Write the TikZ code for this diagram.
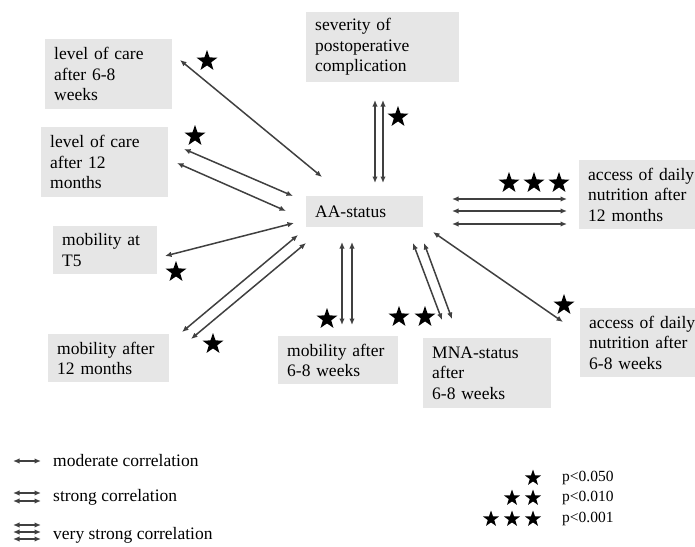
\documentclass[tikz,border=0pt]{standalone}
\usepackage{fontspec}
\setmainfont{Liberation Serif}
\usetikzlibrary{arrows.meta,shapes.geometric,calc}
\definecolor{boxgray}{RGB}{230,230,230}
\definecolor{arrgray}{RGB}{64,64,64}
\begin{document}
\begin{tikzpicture}[x=1pt,y=-1pt,
  box/.style={fill=boxgray, inner xsep=9pt, inner ysep=0pt, align=left, anchor=north west,
              font=\fontsize{17.5}{20.5}\selectfont},
  dar/.style={draw=arrgray, line width=1.5pt, {Latex[length=6.5pt,width=5.5pt]}-{Latex[length=6.5pt,width=5.5pt]}},
  st/.style={star, star points=5, star point ratio=2.5, fill=black, draw=none, inner sep=0pt, minimum size=22pt},
  lst/.style={st, minimum size=17pt},
  legtext/.style={anchor=west, inner sep=0pt, font=\fontsize{17.5}{20}\selectfont},
  ptext/.style={anchor=west, inner sep=0pt, font=\fontsize{15.5}{18}\selectfont}]
\useasboundingbox (0,0) rectangle (695,546);

% boxes
\node[box, text width=109pt, minimum height=70pt] (lc6) at (45,39) {level of care\\after 6-8\\weeks};
\node[box, text width=109pt, minimum height=70pt] (lc12) at (41,127) {level of care\\after 12\\months};
\node[box, text width=86pt, minimum height=48pt] (t5) at (53,226) {mobility at\\T5};
\node[box, text width=103pt, minimum height=48pt] (mob12) at (48,334) {mobility after\\12 months};
\node[box, text width=135pt, minimum height=70pt] (sev) at (306,12) {severity of\\postoperative\\complication};
\node[box, text width=99pt, minimum height=31pt] (aa) at (306,196) {AA-status};
\node[box, text width=107pt, minimum height=69pt] (acc12) at (579,160) {access of daily\\nutrition after\\12 months};
\node[box, text width=107pt, minimum height=69pt] (acc6) at (580,308) {access of daily\\nutrition after\\6-8 weeks};
\node[box, text width=102pt, minimum height=48pt] (mob6) at (278,336) {mobility after\\6-8 weeks};
\node[box, text width=110pt, minimum height=70pt] (mna) at (423,338) {MNA-status\\after\\6-8 weeks};

% connectors
\draw[dar] ($(sev.north west)+(69,88)$) -- ($(aa.north west)+(69,-13)$);
\draw[dar] ($(sev.north west)+(77,88)$) -- ($(aa.north west)+(77,-13)$);

\draw[dar] ($(aa.north west)+(146,3)$) -- ($(acc12.north west)+(-12,39)$);
\draw[dar] ($(aa.north west)+(146,15)$) -- ($(acc12.north west)+(-12,51)$);
\draw[dar] ($(aa.north west)+(146,28)$) -- ($(acc12.north west)+(-12,64)$);

\draw[dar] ($(lc6.north west)+(135,21)$) -- ($(aa.north west)+(16,-19)$);

\draw[dar] ($(lc12.north west)+(143,22)$) -- ($(aa.north west)+(-13,0)$);
\draw[dar] ($(lc12.north west)+(136,36)$) -- ($(aa.north west)+(-20,15)$);

\draw[dar] ($(t5.north west)+(112,30)$) -- ($(aa.north west)+(-12,27)$);

\draw[dar] ($(mob12.north west)+(134,-2)$) -- ($(aa.north west)+(-8,39)$);
\draw[dar] ($(mob12.north west)+(143,5)$) -- ($(aa.north west)+(0,47)$);

\draw[dar] ($(aa.north west)+(36,46)$) -- ($(mob6.north west)+(64,-11)$);
\draw[dar] ($(aa.north west)+(46,46)$) -- ($(mob6.north west)+(74,-11)$);

\draw[dar] ($(aa.north west)+(107,47)$) -- ($(mna.north west)+(19,-18)$);
\draw[dar] ($(aa.north west)+(118,47)$) -- ($(mna.north west)+(29,-19)$);

\draw[dar] ($(aa.north west)+(127,36)$) -- ($(acc6.north west)+(-17,14)$);

% significance stars
\node[st] (s-sev) at (398,117) {};
\node[st] (s-acc12a) at (509,183) {};
\node[st] (s-acc12b) at (534,183) {};
\node[st] (s-acc12c) at (559,183) {};
\node[st] (s-lc6) at (207,61) {};
\node[st] (s-lc12) at (195,136) {};
\node[st] (s-t5) at (176,272) {};
\node[st] (s-mob12) at (213,344) {};
\node[st] (s-mob6) at (327,319) {};
\node[st] (s-mnaa) at (399,317) {};
\node[st] (s-mnab) at (425,317) {};
\node[st] (s-acc6) at (564,305) {};

% legend: arrows
\coordinate (m1a) at (13,461); \coordinate (m1b) at (41,461);
\draw[dar, line width=1.3pt] (m1a) -- (m1b);
\coordinate (s1a) at (13,493); \coordinate (s1b) at (41,493);
\coordinate (s2a) at (13,501); \coordinate (s2b) at (41,501);
\draw[dar, line width=1.3pt] (s1a) -- (s1b);
\draw[dar, line width=1.3pt] (s2a) -- (s2b);
\coordinate (v1a) at (13,525); \coordinate (v1b) at (41,525);
\coordinate (v2a) at (13,532); \coordinate (v2b) at (41,532);
\coordinate (v3a) at (13,539); \coordinate (v3b) at (41,539);
\draw[dar, line width=1.3pt] (v1a) -- (v1b);
\draw[dar, line width=1.3pt] (v2a) -- (v2b);
\draw[dar, line width=1.3pt] (v3a) -- (v3b);
\node[legtext] (lg1) at (53,461) {moderate correlation};
\node[legtext] (lg2) at (53,497) {strong correlation};
\node[legtext] (lg3) at (53,535) {very strong correlation};

% legend: p-values
\node[lst] (p1a) at (533,478) {};
\node[lst] (p2a) at (512,498) {};
\node[lst] (p2b) at (533,498) {};
\node[lst] (p3a) at (491,519) {};
\node[lst] (p3b) at (512,519) {};
\node[lst] (p3c) at (533,519) {};
\node[ptext] (pt1) at (562,478) {p<0.050};
\node[ptext] (pt2) at (562,498) {p<0.010};
\node[ptext] (pt3) at (562,519) {p<0.001};
\end{tikzpicture}
\end{document}
